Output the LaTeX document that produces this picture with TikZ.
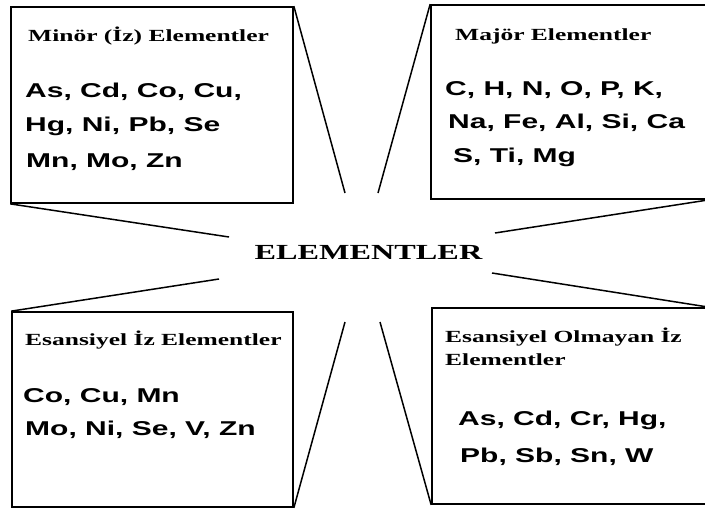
\documentclass[tikz,border=0pt]{standalone}
\usepackage{fontspec}
\setmainfont{Liberation Serif}
\newfontfamily\listfont{Liberation Sans}
\usetikzlibrary{positioning}
\newcommand{\wide}[1]{\scalebox{1.5}[1]{#1}}
\tikzset{
  box/.style={draw=black, line width=1.7pt, inner sep=0pt},
  ttl/.style={anchor=base west, inner sep=0pt, font=\bfseries\fontsize{17}{20}\selectfont},
  lst/.style={anchor=base west, inner sep=0pt, font=\listfont\bfseries\fontsize{20}{24}\selectfont},
  link/.style={draw=black, line width=1.5pt},
}

\begin{document}
\begin{tikzpicture}[x=1pt, y=-1pt]
\clip (0,0) rectangle (705,509);
% Boxes
\node[box, minimum width=282pt, minimum height=196pt] (minor) at (152,105) {};
\node[box, minimum width=277pt, minimum height=194pt] (major) at (569.5,102) {};
\node[box, minimum width=281pt, minimum height=195pt] (esan) at (152.5,409.5) {};
\node[box, minimum width=276pt, minimum height=196pt] (nonesan) at (570,406) {};
% Centre
\node[anchor=base, inner sep=0pt, font=\bfseries\fontsize{21.5}{24}\selectfont] (elem) at (368.5,259) {\wide{ELEMENTLER}};
% Free ends of the rays
\coordinate (m1) at (345,193);
\coordinate (m2) at (229,237);
\coordinate (j1) at (378,193);
\coordinate (j2) at (495,233);
\coordinate (e1) at (219,279);
\coordinate (e2) at (345,322);
\coordinate (n1) at (380,322);
\coordinate (n2) at (492,273);
% Rays
\draw[link] (minor.north east) -- (m1);
\draw[link] (minor.south west) -- (m2);
\draw[link] (major.north west) -- (j1);
\draw[link] (major.south east) -- (j2);
\draw[link] (esan.north west) -- (e1);
\draw[link] (esan.south east) -- (e2);
\draw[link] (nonesan.south west) -- (n1);
\draw[link] (nonesan.north east) -- (n2);
% Minor
\node[ttl] (minort) at (28,41) {\wide{Minör (İz) Elementler}};
\node[lst] (minora) at (25,97) {\wide{As, Cd, Co, Cu,}};
\node[lst] (minorb) at (25,131) {\wide{Hg, Ni, Pb, Se}};
\node[lst] (minorc) at (26,167) {\wide{Mn, Mo, Zn}};
% Major
\node[ttl] (majort) at (455,40) {\wide{Majör Elementler}};
\node[lst] (majora) at (445,95) {\wide{C, H, N, O, P, K,}};
\node[lst] (majorb) at (448,128) {\wide{Na, Fe, Al, Si, Ca}};
\node[lst] (majorc) at (453,162) {\wide{S, Ti, Mg}};
% Essential
\node[ttl] (esant) at (25,345) {\wide{Esansiyel İz Elementler}};
\node[lst] (esana) at (23,402) {\wide{Co, Cu, Mn}};
\node[lst] (esanb) at (25,435) {\wide{Mo, Ni, Se, V, Zn}};
% Non-essential
\node[ttl] (nonesant) at (445,342) {\wide{Esansiyel Olmayan İz}};
\node[ttl] (nonesanu) at (445,365) {\wide{Elementler}};
\node[lst] (nonesana) at (458,425) {\wide{As, Cd, Cr, Hg,}};
\node[lst] (nonesanb) at (460,462) {\wide{Pb, Sb, Sn, W}};
\end{tikzpicture}
\end{document}
